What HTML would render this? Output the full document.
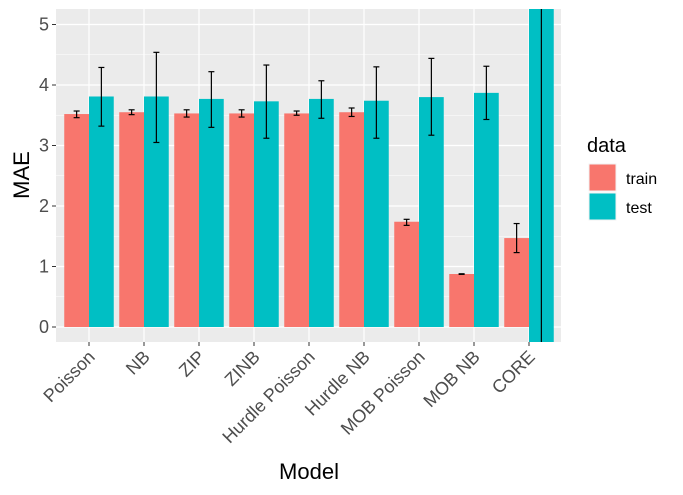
<!DOCTYPE html>
<html><head><meta charset="utf-8"><style>html,body{margin:0;background:#fff;width:683px;height:495px;overflow:hidden}svg{display:block;font-family:"Liberation Sans",sans-serif}</style></head>
<body>
<svg id="chart" width="683" height="495" viewBox="0 0 683 495" xmlns="http://www.w3.org/2000/svg" style="overflow:hidden">
<defs><clipPath id="pc"><rect x="56" y="9" width="505" height="333"/></clipPath></defs>
<rect x="56" y="9" width="505" height="333" fill="#ebebeb"/>
<g id="grid"></g>
<g id="bars" clip-path="url(#pc)"></g>
<g id="axes"></g>
<text x="309" y="479" font-size="22" text-anchor="middle" fill="#000">Model</text>
<text transform="translate(29,175) rotate(-90)" font-size="22" text-anchor="middle" fill="#000">MAE</text>
<g>
<text x="587" y="152" font-size="20" fill="#000">data</text>
<rect x="589" y="164" width="27" height="27" fill="#F8766D" stroke="#f2f2f2"/>
<rect x="589" y="193" width="27" height="27" fill="#00BFC4" stroke="#f2f2f2"/>
<text x="626" y="184" font-size="16" fill="#000">train</text>
<text x="626" y="213" font-size="16" fill="#000">test</text>
</g>
</svg>
<script>
const categories=["Poisson","NB","ZIP","ZINB","Hurdle Poisson","Hurdle NB","MOB Poisson","MOB NB","CORE"];
const trainVals=[3.52,3.55,3.53,3.53,3.53,3.55,1.74,0.876,1.47];
const trainLo=[3.46,3.51,3.47,3.47,3.50,3.48,1.68,0.87,1.23];
const trainHi=[3.57,3.59,3.59,3.59,3.57,3.62,1.78,0.88,1.71];
const testVals=[3.81,3.81,3.77,3.73,3.77,3.74,3.80,3.87,5.6];
const testLo=[3.32,3.05,3.30,3.12,3.45,3.12,3.17,3.43,-1];
const testHi=[4.29,4.54,4.22,4.33,4.07,4.30,4.44,4.31,6];
const yTicks=[0,1,2,3,4,5];
const NS="http://www.w3.org/2000/svg";
const y=v=>327-v*60.5;
const x=i=>89+i*55;
const bw=24.75;
function mk(t,a,p){const e=document.createElementNS(NS,t);for(const k in a)e.setAttribute(k,a[k]);p.appendChild(e);return e;}
const grid=document.getElementById('grid'),bars=document.getElementById('bars'),axes=document.getElementById('axes');
for(let v=0.5;v<5.5;v+=1){const l=mk('line',{x1:56,x2:561,y1:y(v),y2:y(v),stroke:'#fff','stroke-width':0.6},grid);}
yTicks.forEach(v=>{const l=mk('line',{x1:56,x2:561,y1:y(v),y2:y(v),stroke:'#fff','stroke-width':1.2},grid);
const t=mk('line',{x1:52,x2:56,y1:y(v),y2:y(v),stroke:'#333','stroke-width':1},axes);
const tx=mk('text',{x:49,y:y(v)+6,'font-size':18,'text-anchor':'end',fill:'#4d4d4d'},axes);tx.textContent=v;});
categories.forEach((c,i)=>{
const gl=mk('line',{x1:x(i),x2:x(i),y1:9,y2:342,stroke:'#fff','stroke-width':1.2},grid);
const b1=mk('rect',{x:x(i)-bw,y:y(trainVals[i]),width:bw,height:y(0)-y(trainVals[i]),fill:'#F8766D'},bars);
const base=Math.min(0,testLo[i]);
const b2=mk('rect',{x:x(i),y:y(testVals[i]),width:bw,height:y(base)-y(testVals[i]),fill:'#00BFC4'},bars);
[[x(i)-bw/2,trainLo[i],trainHi[i]],[x(i)+bw/2,testLo[i],testHi[i]]].forEach(([cx,lo,hi])=>{
const g=mk('g',{stroke:'#000','stroke-width':1.2,fill:'none'},bars);
mk('line',{x1:cx,x2:cx,y1:y(lo),y2:y(hi)},g);mk('line',{x1:cx-3,x2:cx+3,y1:y(lo),y2:y(lo)},g);mk('line',{x1:cx-3,x2:cx+3,y1:y(hi),y2:y(hi)},g);});
const t=mk('line',{x1:x(i),x2:x(i),y1:342,y2:346,stroke:'#333','stroke-width':1},axes);
const tx=mk('text',{transform:`translate(${x(i)+7},${358}) rotate(-45)`,'font-size':18,'text-anchor':'end',fill:'#4d4d4d'},axes);tx.textContent=c;
});
</script>
</body></html>
